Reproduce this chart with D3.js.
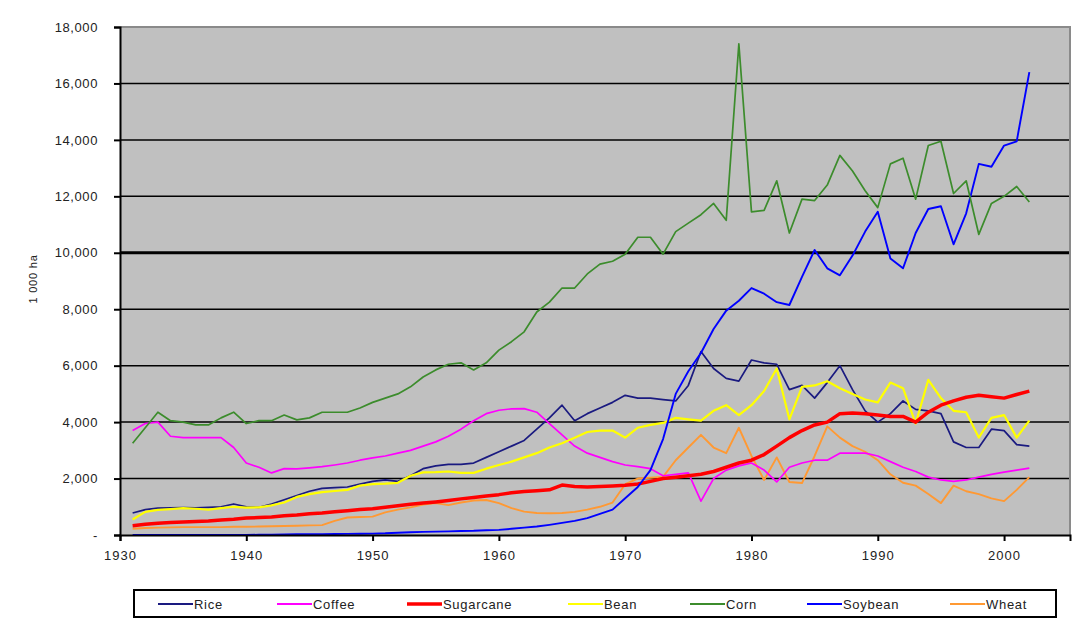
<!DOCTYPE html>
<html><head><meta charset="utf-8">
<script src="https://cdn.jsdelivr.net/npm/d3@7"></script>
<style>
html,body{margin:0;padding:0;background:#fff;}
svg text{font-family:"Liberation Sans",Arial,sans-serif;fill:#222;}
</style></head>
<body><svg id="c" width="1078" height="625"></svg>
<script>
const years = d3.range(1931, 2003);
const seriesNames = ["Rice","Coffee","Sugarcane","Bean","Corn","Soybean","Wheat"];
const seriesColors = ["#1a1a80","#ff00ff","#ff0000","#ffff00","#3c8c2c","#0000ff","#ff9933"];
const yTicks = [0,2000,4000,6000,8000,10000,12000,14000,16000,18000];
const xTicks = [1930,1940,1950,1960,1970,1980,1990,2000];

const rice = [780,900,950,960,970,960,980,1000,1100,1000,980,1100,1250,1400,1550,1650,1680,1700,1800,1900,
1950,1900,2100,2350,2450,2500,2500,2550,2750,2950,3150,3350,3750,4150,4600,4050,4300,4500,4700,4950,
4850,4850,4800,4750,5300,6500,5900,5550,5450,6200,6100,6050,5150,5300,4850,5400,6000,5150,4400,4000,
4300,4750,4450,4400,4300,3300,3100,3100,3750,3700,3200,3150];
const coffee = [3700,3950,4000,3500,3450,3450,3450,3450,3100,2550,2400,2200,2350,2340,2380,2420,2480,2550,2650,2730,
2800,2900,3000,3150,3300,3500,3750,4050,4300,4420,4470,4480,4350,3950,3550,3150,2900,2750,2600,2480,
2420,2350,2100,2150,2200,1200,2000,2300,2450,2550,2300,1880,2400,2550,2650,2650,2900,2900,2900,2800,
2600,2400,2250,2050,1950,1900,1950,2050,2150,2230,2300,2370];
const sugarcane = [330,380,420,440,460,480,500,530,560,600,620,640,680,710,750,780,820,860,900,930,
980,1040,1090,1130,1170,1220,1280,1330,1380,1430,1500,1540,1570,1600,1770,1720,1700,1720,1740,1760,
1810,1900,2000,2050,2100,2150,2250,2400,2550,2650,2850,3150,3450,3700,3900,4000,4300,4320,4300,4250,
4200,4200,4000,4350,4600,4750,4880,4950,4900,4850,4980,5100];
const bean = [550,820,890,920,950,930,900,950,1000,970,980,1050,1150,1350,1450,1520,1560,1600,1750,1800,
1820,1850,2100,2220,2230,2250,2200,2200,2350,2480,2600,2750,2900,3100,3250,3450,3650,3700,3700,3450,
3800,3900,3970,4150,4100,4050,4400,4600,4250,4600,5100,5900,4100,5250,5300,5450,5200,5000,4800,4700,
5400,5200,3950,5500,4850,4400,4350,3450,4150,4250,3450,4050];
const corn = [3250,3800,4350,4050,4000,3900,3900,4150,4350,3950,4050,4050,4250,4080,4150,4350,4350,4350,4500,4700,
4850,5000,5250,5600,5850,6050,6100,5850,6100,6550,6850,7200,7900,8250,8750,8750,9250,9600,9700,9950,
10550,10550,9950,10750,11050,11350,11750,11150,17400,11450,11500,12550,10700,11900,11850,12400,13450,12900,12200,11600,
13150,13350,11900,13800,13950,12100,12550,10650,11750,12000,12350,11800];
const soybean = [0,0,0,0,0,0,0,0,0,0,10,15,20,25,30,30,35,40,45,50,
60,80,100,110,120,130,140,150,170,180,220,260,300,360,430,500,600,750,900,1300,
1700,2300,3400,5000,5800,6450,7300,7950,8300,8750,8550,8250,8150,9150,10100,9450,9200,9900,10750,11450,
9800,9450,10700,11550,11650,10300,11400,13150,13050,13800,13950,16400];
const wheat = [220,250,260,270,280,280,280,280,290,290,300,310,320,330,340,350,500,620,640,650,
800,900,980,1080,1130,1060,1150,1220,1240,1130,950,830,780,770,780,820,900,1000,1150,1800,
2000,2030,2060,2650,3100,3550,3100,2900,3800,2800,1950,2750,1880,1840,2800,3850,3450,3150,2950,2650,
2150,1850,1750,1450,1130,1750,1550,1450,1300,1200,1600,2050];
const seriesValues = [rice,coffee,sugarcane,bean,corn,soybean,wheat];

const svg = d3.select("#c");
const L = 120, R = 1070, T = 27, B = 535;
const x = d3.scaleLinear().domain([1930, 2005.22]).range([L, R]);
const y = d3.scaleLinear().domain([0, 18000]).range([B, T]);

svg.append("rect").attr("x", L).attr("y", T).attr("width", R - L).attr("height", B - T).attr("fill", "#c0c0c0");
svg.append("g").selectAll("line").data(yTicks.filter(d => d > 0 && d < 18000)).join("line")
  .attr("x1", L).attr("x2", R).attr("y1", d => y(d)).attr("y2", d => y(d))
  .attr("stroke", "#000").attr("stroke-width", d => d === 10000 ? 3 : 1.5);
svg.append("path").attr("d", `M${L},${T}H${R}V${B}`).attr("fill", "none").attr("stroke", "#8a8a8a").attr("stroke-width", 2);

const line = d3.line().x((d, i) => x(years[i])).y(d => y(d));
const widths = [1.7,1.7,3.5,2.2,1.7,1.9,1.9];
const order = [6,0,1,3,2,5,4];
svg.append("g").selectAll("path").data(order).join("path")
  .attr("d", k => line(seriesValues[k]))
  .attr("fill", "none").attr("stroke", k => seriesColors[k]).attr("stroke-width", k => widths[k])
  .attr("stroke-linejoin", "round");

const fmt = d => d === 0 ? "-" : d3.format(",")(d);
const yAxis = d3.axisLeft(y).tickValues(yTicks).tickFormat(fmt).tickSize(6).tickPadding(16);
const gy = svg.append("g").attr("transform", `translate(${L},0)`).call(yAxis);
gy.selectAll("text").attr("font-size", 13).attr("letter-spacing", 0.6).attr("fill", "#222")
  .style("font-family", "Liberation Sans, Arial, sans-serif");
gy.selectAll("line").attr("stroke", "#000").attr("stroke-width", 2);
gy.select(".domain").attr("stroke", "#000").attr("stroke-width", 2);

const xAxis = d3.axisBottom(x).tickValues(xTicks).tickFormat(d3.format("d")).tickSize(6).tickPadding(10);
const gx = svg.append("g").attr("transform", `translate(0,${B})`).call(xAxis);
gx.selectAll("text").attr("font-size", 13).attr("letter-spacing", 1).attr("fill", "#222")
  .style("font-family", "Liberation Sans, Arial, sans-serif");
gx.selectAll("line").attr("stroke", "#000").attr("stroke-width", 2);
gx.select(".domain").attr("stroke", "#000").attr("stroke-width", 2);

svg.append("text").attr("transform", "translate(37,279) rotate(-90)").attr("text-anchor", "middle")
  .attr("font-size", 11).attr("letter-spacing", 0.8).text("1 000 ha");

const lg = svg.append("g");
lg.append("rect").attr("x", 134).attr("y", 590).attr("width", 922).attr("height", 27)
  .attr("fill", "#fff").attr("stroke", "#000").attr("stroke-width", 2);
const legendX = [158, 277, 407, 568, 690, 807, 950];
const items = lg.selectAll("g.it").data(seriesNames).join("g").attr("class", "it")
  .attr("transform", (d, i) => `translate(${legendX[i]},604)`);
items.append("line").attr("x1", 0).attr("x2", 35).attr("y1", 0).attr("y2", 0)
  .attr("stroke", (d, i) => seriesColors[i]).attr("stroke-width", (d, i) => i === 2 ? 3.5 : 1.8);
items.append("text").attr("x", 36).attr("y", 4.5).attr("font-size", 13).attr("letter-spacing", 0.7).text(d => d);
</script></body></html>
